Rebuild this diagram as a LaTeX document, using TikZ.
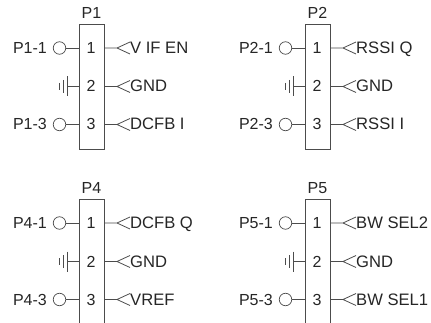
\documentclass[tikz,border=0pt]{standalone}
\usepackage{fontspec}
\setmainfont{Liberation Sans}
\tikzset{
  x=1pt,y=-1pt,
  wire/.style={draw=black!70!white,line width=0.8pt},
  boxst/.style={draw=black!70!white,line width=0.9pt,fill=white},
  lab/.style={font=\fontsize{16}{16}\selectfont,inner sep=0pt,text=black!85!white},
  pinlab/.style={lab,anchor=base east},
  siglab/.style={lab,font=\fontsize{16.6}{16.6}\selectfont,anchor=base west},
  numlab/.style={lab,anchor=base},
  hole/.style={circle,draw=black!70!white,line width=0.7pt,minimum size=12.5pt,inner sep=0pt},
}
\newcommand{\connector}[7]{%
 \begin{scope}[shift={(#1,#2)}]
  \node[boxst,anchor=north west,minimum width=25pt,minimum height=#7pt,inner sep=0pt] (#3box) at (0,0) {};
  \node[lab,anchor=base] (#3t) at (12.5,-5.5) {#3};
  \foreach \n/\yy in {1/24,2/62.5,3/100.5}{
    \node[numlab] (#3n\n) at (12,\yy+5.5) {\n};
    \coordinate (#3r\n) at (25,\yy);
    \coordinate (#3a\n) at (38,\yy);
    \coordinate (#3l\n) at (0,\yy);
    \draw[wire] (#3r\n) -- (#3a\n) -- ++(13,-6) (#3a\n) -- ++(13,6);
  }
  \node[siglab] (#3s1) at (51,29.5) {#4};
  \node[siglab] (#3s2) at (51,68) {#5};
  \node[siglab] (#3s3) at (51,106) {#6};
  \foreach \n/\yy in {1/24,3/100.5}{
    \node[hole] (#3h\n) at (-19.5,\yy) {};
    \draw[wire] (#3h\n) -- (#3l\n);
    \node[pinlab] (#3p\n) at (-32,\yy+5.5) {#3-\n};
  }
  \coordinate (#3g) at (-12,62.5);
  \draw[wire] (#3l2) -- (#3g);
  \draw[wire] (#3g) ++(0,-10) -- ++(0,20);
  \draw[wire] (#3g) ++(-4,-6.5) -- ++(0,13);
  \draw[wire] (#3g) ++(-8,-3.5) -- ++(0,7);
 \end{scope}}
\begin{document}
\begin{tikzpicture}
\useasboundingbox (0,0) rectangle (431,323);
\fill[white] (0,0) rectangle (431,323);
\connector{79}{24}{P1}{V IF EN}{GND}{DCFB I}{125}
\connector{305}{24}{P2}{RSSI Q}{GND}{RSSI I}{125}
\connector{79}{199}{P4}{DCFB Q}{GND}{VREF}{125}
\connector{305}{199}{P5}{BW SEL2}{GND}{BW SEL1}{125}
\end{tikzpicture}
\end{document}
